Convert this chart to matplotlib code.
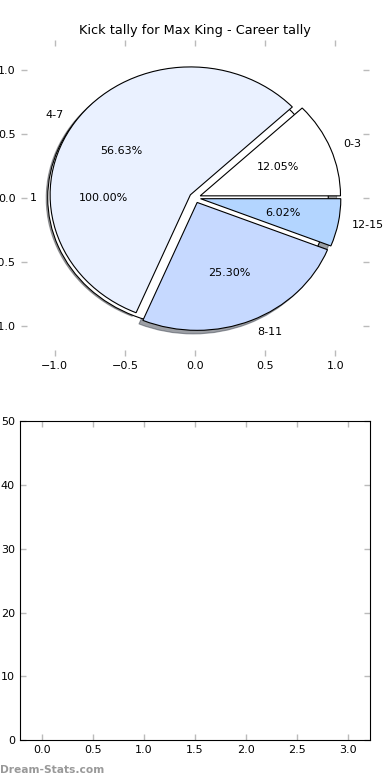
import matplotlib
matplotlib.use("Agg")
import matplotlib.pyplot as plt

# kick tally data
labels = ["0-3", "4-7", "8-11", "12-15"]
kicks = [20, 94, 42, 10]
colors = ["#ffffff", "#eaf1ff", "#c6d9ff", "#b3d5ff"]
explode = [0.04, 0.04, 0.04, 0.04]

base_labels = ["1"]
base_vals = [1]

pie_ticks = [-1.0, -0.5, 0.0, 0.5, 1.0]
x_ticks = [0.0, 0.5, 1.0, 1.5, 2.0, 2.5, 3.0]
y_ticks = [0, 10, 20, 30, 40, 50]

plt.rcParams["font.size"] = 8
plt.rcParams["font.family"] = "DejaVu Sans"

fig = plt.figure(figsize=(3.9, 7.8), dpi=100)

# pie chart on top
ax1 = fig.add_axes([0.054, 0.544, 0.892, 0.405])
ax1.pie(base_vals, labels=base_labels, autopct="%1.2f%%", colors=["white"],
        explode=[0.05], labeldistance=1.08,
        wedgeprops={"edgecolor": "black", "linewidth": 0.8})
ax1.pie(kicks, labels=labels, colors=colors, explode=explode, shadow=True,
        autopct="%1.2f%%", wedgeprops={"edgecolor": "black", "linewidth": 0.8})
ax1.set_aspect("auto")
ax1.set_frame_on(False)
ax1.set_xlim(-1.24, 1.24)
ax1.set_ylim(-1.235, 1.235)
ax1.set_xticks(pie_ticks)
ax1.set_yticks(pie_ticks)
ax1.tick_params(direction="in", top=True, right=True, color="#bbbbbb",
                length=4, width=1, labelsize=8, pad=4)
ax1.set_title("Kick tally for Max King - Career tally", fontsize=9.3, pad=4)

# empty axes below
ax2 = fig.add_axes([0.051, 0.051, 0.897, 0.409])
ax2.set_xlim(-0.216, 3.216)
ax2.set_ylim(0, 50)
ax2.set_xticks(x_ticks)
ax2.set_yticks(y_ticks)
ax2.tick_params(direction="in", top=True, right=True, color="#bbbbbb",
                length=4, width=1, labelsize=8)

fig.text(0.0, 0.006, "Dream-Stats.com", color="#999999", fontsize=7.7,
         fontweight="bold", ha="left", va="bottom")

fig.savefig("out.png", dpi=100)
